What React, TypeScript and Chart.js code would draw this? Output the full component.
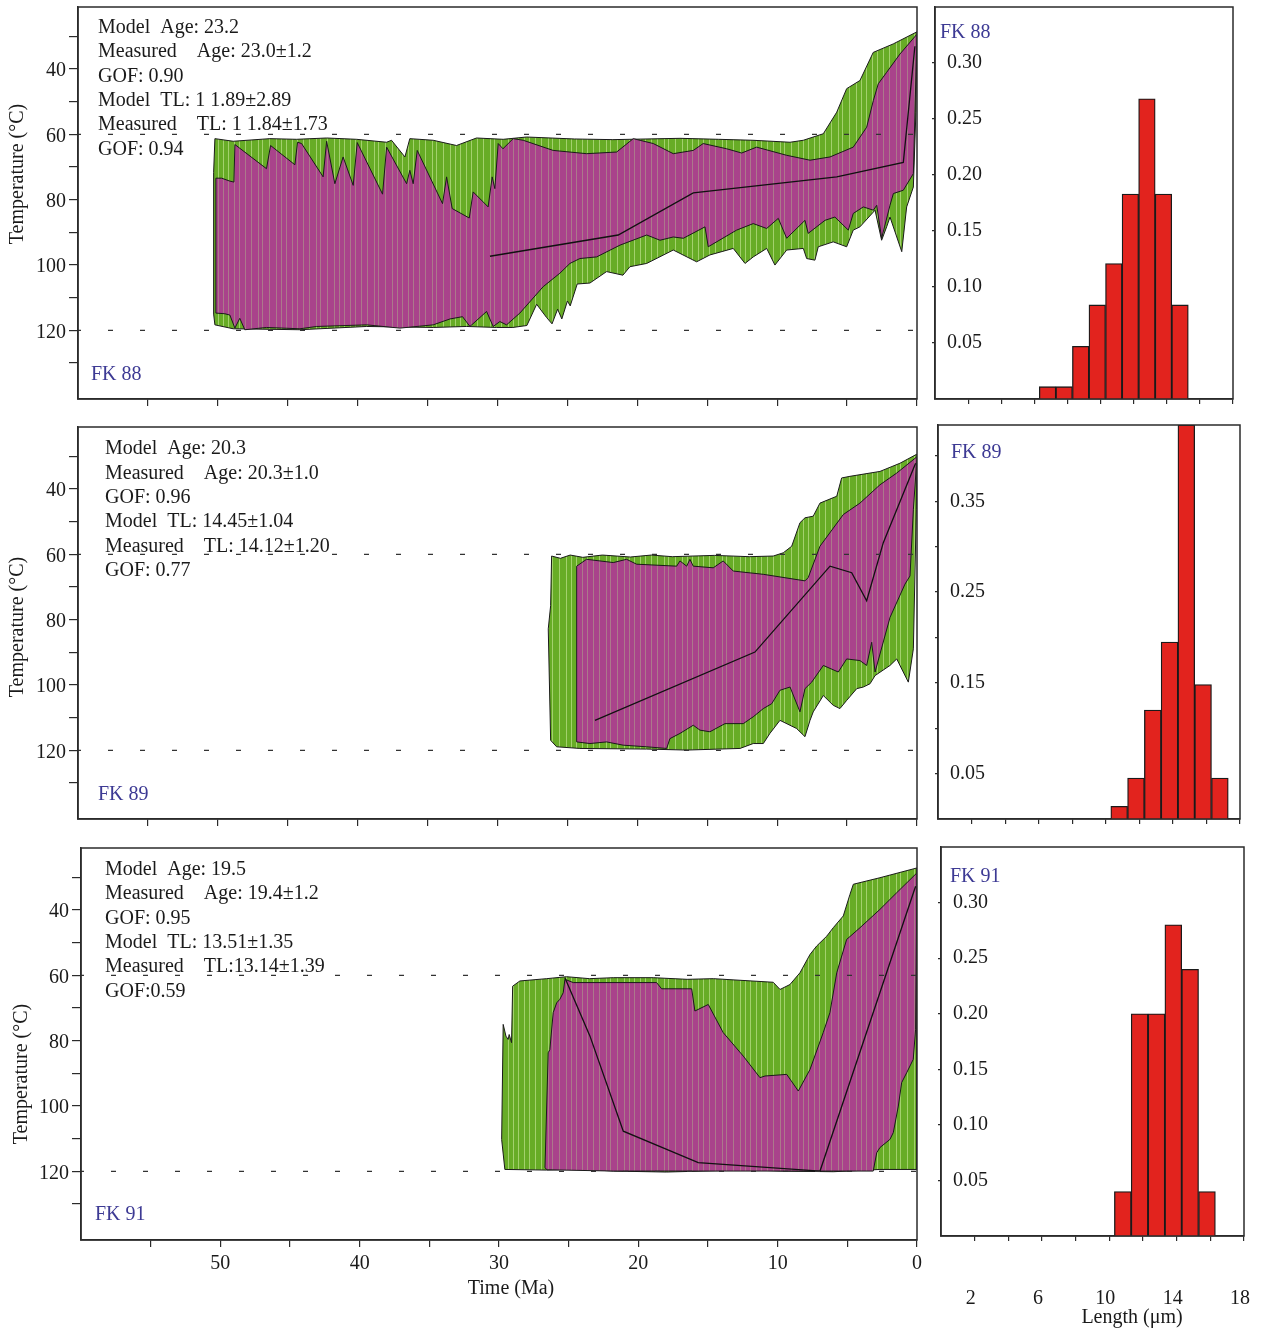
import React, { useEffect, useRef } from "react";
import { Chart, registerables } from "chart.js";
Chart.register(...registerables);

type Pt = [number, number];

const SERIF = '"Liberation Serif", "Times New Roman", serif';
const INK = "#1a1a1a";
const AXIS = "#2b2b2b";
const BLUE = "#3d3a94";
const GREEN = "#67ac26";
const GREEN_STRIPE = "rgba(190,225,140,0.7)";
const MAGENTA = "#a9438b";
const MAGENTA_STRIPE = "rgba(175,175,140,0.5)";
const RED = "#e2231e";

// ---------- axes ----------
const timeRange = [60, 0];
const timeTicks = [55, 50, 45, 40, 35, 30, 25, 20, 15, 10, 5, 0];
const timeLabels = [50, 40, 30, 20, 10, 0];
const tempTicks = [30, 40, 50, 60, 70, 80, 90, 100, 110, 120, 130];
const tempLabels = [40, 60, 80, 100, 120];
const dashLevels = [60, 120];
const lengthTicks = [2, 4, 6, 8, 10, 12, 14, 16, 18];
const lengthLabels = [2, 6, 10, 14, 18];

// ---------- FK 88 ----------
const fk88Stats = ["Model  Age: 23.2", "Measured    Age: 23.0±1.2", "GOF: 0.90", "Model  TL: 1 1.89±2.89", "Measured    TL: 1 1.84±1.73", "GOF: 0.94"];
const fk88GreenUpper: Pt[] = [
  [50.3, 71.6], [50.21, 61.3], [48.9, 62.1], [46.28, 61.3], [44.37, 61.5], [42.22, 61.1], [40.08, 61.5], [37.93, 62.4], [37.58, 61.8],
  [36.62, 66.9], [36.27, 61.3], [34.6, 61.8], [32.93, 63.4], [31.5, 61.1], [29.59, 61.5], [27.92, 60.8], [24.5, 61.4], [21.75, 61.6],
  [16.95, 61.2], [14.2, 61.5], [11.73, 61.8], [9.08, 62.4], [8.13, 61.8], [6.7, 59.8], [5.74, 53.2], [5.03, 46.0], [4.08, 43.5],
  [3.13, 34.9], [1.7, 32.3], [0, 28.6],
];
const fk88GreenLower: Pt[] = [
  [50.3, 115.0], [50.21, 118.3], [48.9, 119.5], [44.13, 119.8], [39.36, 118.8], [34.6, 119.1], [32.21, 118.8], [30.06, 119.1], [28.9, 119.1],
  [27.9, 118.5], [27.2, 112.0], [26.5, 116.0], [26.1, 118.0], [25.7, 113.5], [25.4, 116.5], [25.0, 111.0], [24.8, 112.5], [24.3, 105.8],
  [23.39, 105.5], [22.2, 102.0], [21.03, 103.1], [20.53, 100.5], [19.33, 99.5], [17.43, 95.4], [15.76, 99.0], [14.81, 96.9], [13.14, 94.9],
  [12.3, 99.5], [11.71, 97.5], [10.75, 94.9], [10.16, 100.0], [9.32, 95.4], [8.13, 94.9], [7.89, 98.0], [7.3, 98.5], [7.06, 94.4],
  [5.99, 92.9], [5.03, 94.4], [4.56, 89.3], [4.08, 88.3], [3.0, 83.2], [2.53, 92.4], [2.17, 88.3], [1.93, 85.3], [1.09, 95.9],
  [0.74, 82.2], [0.26, 76.1], [0.08, 53.3], [0, 28.6],
];
const fk88MagentaUpper: Pt[] = [
  [50.14, 73.4], [49.73, 73.4], [49.14, 74.3], [48.85, 74.6], [48.78, 63.1], [46.52, 70.5], [46.23, 63.4], [44.49, 69.3], [44.3, 62.4],
  [44.01, 62.8], [42.47, 73.0], [42.22, 62.1], [41.63, 75.1], [41.04, 66.9], [40.32, 75.6], [40.03, 62.5], [38.22, 78.3], [37.93, 63.9],
  [36.5, 75.1], [36.27, 71.0], [36.03, 75.1], [35.74, 64.9], [33.93, 81.2], [33.64, 73.0], [33.24, 82.7], [32.02, 85.6], [31.74, 77.6],
  [30.67, 82.2], [30.38, 73.0], [30.19, 76.6], [29.95, 62.8], [29.61, 64.4], [28.88, 61.3], [28.16, 61.8], [26.02, 64.9], [23.63, 65.9],
  [21.48, 65.4], [20.29, 61.3], [18.86, 62.8], [17.43, 65.9], [16.0, 64.9], [15.29, 62.8], [13.61, 64.4], [12.54, 65.7], [11.47, 63.9],
  [9.32, 66.4], [7.65, 67.9], [6.22, 66.9], [4.56, 63.9], [3.6, 57.8], [3.12, 49.6], [2.77, 44.5], [2.17, 41.0], [1.22, 35.4], [0, 29.3],
];
const fk88MagentaLower: Pt[] = [
  [50.14, 114.7], [49.5, 114.9], [49.14, 115.3], [48.78, 119.3], [48.43, 116.3], [48.07, 119.8], [46.52, 119.1], [44.13, 119.5],
  [42.94, 118.8], [39.36, 118.3], [36.98, 119.3], [34.6, 118.3], [33.4, 116.5], [32.5, 115.8], [31.97, 118.8], [30.78, 114.2],
  [30.31, 118.8], [29.83, 117.3], [29.35, 118.3], [28.4, 114.7], [26.73, 106.6], [25.54, 102.5], [24.82, 99.5], [24.11, 98.0],
  [22.91, 97.5], [21.24, 93.9], [19.33, 90.8], [18.38, 92.4], [17.43, 91.4], [16.71, 91.8], [15.16, 88.3], [14.93, 94.4], [12.9, 89.3],
  [11.71, 87.3], [10.75, 88.8], [9.92, 85.7], [9.32, 91.8], [8.01, 86.3], [7.78, 90.3], [6.58, 86.3], [5.87, 85.3], [4.91, 89.3],
  [4.56, 84.2], [3.84, 82.2], [3.12, 83.2], [2.88, 81.7], [2.53, 91.8], [1.93, 81.7], [1.69, 78.1], [0.98, 77.1], [0.26, 72.0], [0, 29.3],
];
const fk88Best: Pt[] = [[30.54, 97.3], [21.37, 90.8], [16.0, 77.9], [5.74, 73.0], [0.98, 68.6], [0.15, 33.0]];
const fk88Length = [6.8, 7.8, 8.8, 9.8, 10.8, 11.8, 12.8, 13.8, 14.8];
const fk88Freq = [0.011, 0.011, 0.047, 0.084, 0.121, 0.183, 0.268, 0.183, 0.084];
const fk88FreqTicks = [0.05, 0.1, 0.15, 0.2, 0.25, 0.3];
const fk88FreqLabels = [0.05, 0.1, 0.15, 0.2, 0.25, 0.3];

// ---------- FK 89 ----------
const fk89Stats = ["Model  Age: 20.3", "Measured    Age: 20.3±1.0", "GOF: 0.96", "Model  TL: 14.45±1.04", "Measured    TL: 14.12±1.20", "GOF: 0.77"];
const fk89GreenUpper: Pt[] = [
  [26.37, 82.8], [26.2, 75.7], [26.13, 60.5], [25.5, 61.2], [24.8, 60.2], [23.9, 60.9], [22.5, 60.2], [20.5, 60.8], [19.0, 60.2],
  [17.5, 60.7], [14.5, 60.3], [12.0, 60.7], [10.28, 60.5], [9.56, 59.5], [8.96, 57.5], [8.37, 50.3], [8.01, 48.8], [7.42, 48.3],
  [6.94, 44.3], [5.74, 42.2], [5.39, 36.6], [4.79, 36.1], [2.65, 34.6], [1.22, 32.1], [0, 29.3],
];
const fk89GreenLower: Pt[] = [
  [26.2, 116.9], [25.77, 118.9], [24.11, 119.4], [19.33, 119.6], [16.47, 119.9], [12.66, 119.4], [11.71, 117.9], [10.99, 117.9],
  [10.52, 114.8], [9.8, 110.8], [8.61, 113.3], [8.01, 115.8], [7.65, 110.8], [7.42, 108.2], [6.7, 103.2], [5.99, 106.2], [5.51, 107.2],
  [5.03, 104.7], [4.31, 101.1], [3.84, 100.6], [3.36, 99.6], [3.0, 97.1], [1.93, 94.0], [1.45, 92.0], [0.62, 99.1], [0.26, 88.9],
  [0.05, 46.3], [0, 29.3],
];
const fk89MagentaUpper: Pt[] = [
  [24.34, 63.6], [23.63, 61.5], [21.72, 62.5], [20.77, 61.5], [20.05, 63.0], [17.19, 63.6], [16.95, 62.0], [16.47, 63.6], [16.24, 61.5],
  [16.0, 63.6], [14.57, 64.1], [13.86, 62.0], [13.14, 65.1], [10.99, 66.1], [8.01, 68.1], [7.78, 67.1], [6.94, 57.5], [5.27, 47.8],
  [4.08, 44.3], [2.65, 38.7], [1.45, 35.1], [0, 30.1],
];
const fk89MagentaLower: Pt[] = [
  [24.34, 117.4], [23.39, 117.9], [22.2, 117.4], [21.01, 118.4], [19.33, 118.9], [17.9, 119.4], [17.67, 116.4], [16.95, 114.8],
  [16.0, 112.3], [15.52, 113.8], [14.81, 114.3], [13.73, 111.8], [12.42, 111.8], [11.71, 109.7], [10.99, 107.2], [10.39, 105.7],
  [9.8, 101.6], [9.08, 100.6], [8.37, 108.2], [8.01, 101.1], [7.53, 99.1], [6.7, 94.0], [5.63, 96.0], [5.03, 92.0], [4.08, 92.5],
  [3.6, 94.0], [3.24, 86.9], [3.0, 96.0], [1.93, 79.3], [0.86, 69.1], [0.5, 66.6], [0.26, 46.3], [0, 30.1],
];
const fk89Best: Pt[] = [[23.03, 110.8], [11.59, 89.9], [6.22, 63.6], [4.67, 65.6], [3.6, 74.2], [2.41, 56.4], [0.1, 32.1]];
const fk89Length = [10.8, 11.8, 12.8, 13.8, 14.8, 15.8, 16.8];
const fk89Freq = [0.014, 0.045, 0.12, 0.195, 0.434, 0.148, 0.045];
const fk89FreqTicks = [0.05, 0.1, 0.15, 0.2, 0.25, 0.3, 0.35, 0.4];
const fk89FreqLabels = [0.05, 0.15, 0.25, 0.35];

// ---------- FK 91 ----------
const fk91Stats = ["Model  Age: 19.5", "Measured    Age: 19.4±1.2", "GOF: 0.95", "Model  TL: 13.51±1.35", "Measured    TL:13.14±1.39", "GOF:0.59"];
const fk91GreenUpper: Pt[] = [
  [29.81, 110.2], [29.7, 75.0], [29.5, 78.6], [29.34, 79.6], [29.27, 78.1], [29.1, 80.6], [29.02, 63.3], [28.5, 61.7], [26.58, 61.0],
  [25.15, 60.4], [23.5, 61.0], [21.8, 60.7], [18.93, 60.7], [16.5, 61.2], [14.62, 61.0], [10.32, 62.1], [9.83, 64.3], [9.12, 62.8],
  [8.4, 59.2], [7.68, 53.6], [7.2, 51.0], [6.48, 48.0], [6.01, 45.4], [5.29, 41.8], [4.81, 35.2], [4.57, 32.1], [2.66, 30.1], [0, 27.1],
];
const fk91GreenLower: Pt[] = [
  [29.58, 119.4], [26.58, 119.6], [24.0, 119.3], [21.8, 119.9], [18.0, 120.2], [12.0, 119.5], [9.83, 119.9], [6.0, 120.1], [2.66, 119.4],
  [0, 119.4],
];
const fk91MagentaUpper: Pt[] = [
  [26.7, 118.9], [26.47, 83.7], [26.35, 82.7], [26.11, 71.4], [25.86, 68.4], [25.63, 67.3], [25.39, 65.3], [25.27, 61.2], [24.67, 62.2],
  [18.69, 62.2], [18.33, 64.1], [16.17, 64.1], [15.94, 70.9], [14.98, 68.9], [13.91, 77.5], [12.47, 84.7], [11.27, 91.3], [10.91, 90.8],
  [9.35, 90.3], [8.52, 95.4], [7.68, 88.8], [6.73, 77.5], [6.25, 71.4], [5.76, 59.2], [5.05, 49.0], [4.09, 45.4], [2.66, 39.8],
  [1.46, 34.7], [0, 28.6],
];
const fk91MagentaLower: Pt[] = [
  [26.55, 119.5], [21.8, 119.9], [3.14, 119.9], [2.89, 114.3], [2.66, 112.7], [1.94, 110.2], [1.7, 108.1], [1.34, 100.0], [1.1, 92.8],
  [0.74, 89.8], [0.27, 85.7], [0.1, 76.5], [0, 28.6],
];
const fk91Best: Pt[] = [[25.27, 60.7], [23.47, 78.6], [21.08, 107.7], [15.7, 117.3], [6.96, 119.9], [0.1, 32.7]];
const fk91Length = [10.8, 11.8, 12.8, 13.8, 14.8, 15.8];
const fk91Freq = [0.04, 0.2, 0.2, 0.28, 0.24, 0.04];
const fk91FreqTicks = [0.05, 0.1, 0.15, 0.2, 0.25, 0.3];
const fk91FreqLabels = [0.05, 0.1, 0.15, 0.2, 0.25, 0.3];

// ---------- helpers ----------
const toXY = (a: Pt[]) => a.map(([x, y]) => ({ x, y }));
const polygon = (up: Pt[], low: Pt[]) => {
  const pts = [...up, ...[...low].reverse(), up[0]];
  return toXY(pts);
};
const near = (list: number[], v: number) => list.some((l) => Math.abs(l - v) < 1e-6);

function stripes(base: string, stripe: string): any {
  const c = document.createElement("canvas");
  c.width = 58;
  c.height = 8;
  const g = c.getContext("2d")!;
  g.fillStyle = base;
  g.fillRect(0, 0, 58, 8);
  g.fillStyle = stripe;
  [2, 7, 13, 19, 26, 30, 37, 44, 49, 54].forEach((o) => g.fillRect(o, 0, 1, 8));
  return g.createPattern(c, "repeat") || base;
}

type Txt = { t: string; x: number; y: number; color?: string; size?: number; align?: CanvasTextAlign; rot?: boolean };

const framePlugin = {
  id: "frame",
  afterDraw(chart: any) {
    const { ctx, chartArea: a } = chart;
    ctx.save();
    ctx.strokeStyle = AXIS;
    ctx.lineWidth = 1.5;
    ctx.strokeRect(a.left, a.top, a.right - a.left, a.bottom - a.top);
    ctx.restore();
  },
};

const textPlugin = (items: Txt[], top: number, left: number) => ({
  id: "texts",
  afterDraw(chart: any) {
    const ctx = chart.ctx as CanvasRenderingContext2D;
    for (const it of items) {
      ctx.save();
      ctx.font = `${it.size ?? 20}px ${SERIF}`;
      ctx.fillStyle = it.color ?? INK;
      ctx.textAlign = it.align ?? "left";
      ctx.textBaseline = "middle";
      ctx.translate(it.x - left, it.y - top);
      if (it.rot) ctx.rotate(-Math.PI / 2);
      ctx.fillText(it.t, 0, 0);
      ctx.restore();
    }
  },
});

const tickFont = { family: SERIF, size: 20 };

interface ThermalSpec {
  top: number; height: number; yAxisW: number; xAxisH: number;
  greenUp: Pt[]; greenLow: Pt[]; magUp: Pt[]; magLow: Pt[]; best: Pt[];
  stats: string[]; statsX: number; statsY: number[];
  name: string; nameX: number; nameY: number; yTitleX: number; yTitleY: number; bottom: boolean;
}

function thermalConfig(s: ThermalSpec): any {
  const texts: Txt[] = [
    ...s.stats.map((t, i) => ({ t, x: s.statsX, y: s.statsY[i] })),
    { t: s.name, x: s.nameX, y: s.nameY, color: BLUE },
    { t: "Temperature (°C)", x: s.yTitleX, y: s.yTitleY, align: "center" as CanvasTextAlign, rot: true },
  ];
  if (s.bottom) texts.push({ t: "Time (Ma)", x: 511, y: 1289, align: "center" });
  const line = { pointRadius: 0, tension: 0 };
  return {
    type: "line",
    data: {
      datasets: [
        { ...line, data: polygon(s.greenUp, s.greenLow), fill: "shape", backgroundColor: stripes(GREEN, GREEN_STRIPE), borderColor: INK, borderWidth: 1, order: 3 },
        { ...line, data: polygon(s.magUp, s.magLow), fill: "shape", backgroundColor: stripes(MAGENTA, MAGENTA_STRIPE), borderColor: INK, borderWidth: 1, order: 2 },
        { ...line, data: toXY(s.best), fill: false, borderColor: "#111", borderWidth: 1.3, order: 1 },
        ...dashLevels.map((lv) => ({
          ...line, data: timeRange.map((x) => ({ x, y: lv })), fill: false, borderColor: "#333", borderWidth: 1.3,
          borderDash: [5, 27], borderDashOffset: 2, order: 0,
        })),
      ],
    },
    options: {
      responsive: false, animation: false, devicePixelRatio: 1, events: [],
      layout: { padding: { top: 7, right: 8, left: 0, bottom: 0 } },
      plugins: { legend: { display: false }, tooltip: { enabled: false } },
      scales: {
        x: {
          type: "linear", reverse: true, min: 0, max: 60,
          afterBuildTicks: (ax: any) => { ax.ticks = timeTicks.map((v) => ({ value: v })); },
          ticks: { autoSkip: false, maxRotation: 0, font: tickFont, color: INK, padding: 5,
            callback: (v: number) => (s.bottom && near(timeLabels, v) ? String(v) : "") },
          grid: { drawOnChartArea: false, drawTicks: true, tickLength: 7, color: AXIS, lineWidth: 1.2 },
          border: { display: true, color: AXIS, width: 1.5 },
          afterFit: (ax: any) => { ax.height = s.xAxisH; ax.paddingLeft = 0; ax.paddingRight = 0; ax.paddingTop = 0; ax.paddingBottom = 0; },
        },
        y: {
          type: "linear", reverse: true, min: 21, max: 141,
          afterBuildTicks: (ax: any) => { ax.ticks = tempTicks.map((v) => ({ value: v })); },
          ticks: { autoSkip: false, font: tickFont, color: INK, padding: 3, labelOffset: 2,
            callback: (v: number) => (near(tempLabels, v) ? String(v) : "") },
          grid: { drawOnChartArea: false, drawTicks: true, tickLength: 9, color: AXIS, lineWidth: 1.2 },
          border: { display: true, color: AXIS, width: 1.5 },
          afterFit: (ax: any) => { ax.width = s.yAxisW; ax.paddingLeft = 0; ax.paddingRight = 0; ax.paddingTop = 0; ax.paddingBottom = 0; },
        },
      },
    },
    plugins: [framePlugin, textPlugin(texts, s.top, 0)],
  };
}

interface HistSpec {
  top: number; height: number; padTop: number; padRight: number; yAxisW: number; xAxisH: number;
  len: number[]; freq: number[]; max: number; yTicks: number[]; yLabels: number[];
  name: string; nameX: number; nameY: number; bottom: boolean;
}

function histConfig(h: HistSpec): any {
  const texts: Txt[] = [{ t: h.name, x: h.nameX, y: h.nameY, color: BLUE }];
  if (h.bottom) texts.push({ t: "Length (μm)", x: 1132, y: 1318, align: "center" });
  return {
    type: "bar",
    data: {
      datasets: [{
        data: h.len.map((x, i) => ({ x, y: h.freq[i] })), backgroundColor: RED, borderColor: INK, borderWidth: 1.3,
        barPercentage: 1, categoryPercentage: 1,
      }],
    },
    options: {
      responsive: false, animation: false, devicePixelRatio: 1, events: [],
      layout: { padding: { top: h.padTop, right: h.padRight, left: 0, bottom: 0 } },
      plugins: { legend: { display: false }, tooltip: { enabled: false } },
      scales: {
        x: {
          type: "linear", min: 0, max: 18, offset: false,
          afterBuildTicks: (ax: any) => { ax.ticks = lengthTicks.map((v) => ({ value: v })); },
          ticks: { autoSkip: false, maxRotation: 0, font: tickFont, color: INK, padding: 46, labelOffset: -4,
            callback: (v: number) => (h.bottom && near(lengthLabels, v) ? String(v) : "") },
          grid: { offset: false, drawOnChartArea: false, drawTicks: true, tickLength: 5, color: AXIS, lineWidth: 1.2 },
          border: { display: true, color: AXIS, width: 1.5 },
          afterFit: (ax: any) => { ax.height = h.xAxisH; ax.paddingLeft = 0; ax.paddingRight = 0; ax.paddingTop = 0; ax.paddingBottom = 0; },
        },
        y: {
          type: "linear", min: 0, max: h.max,
          afterBuildTicks: (ax: any) => { ax.ticks = h.yTicks.map((v) => ({ value: v })); },
          ticks: { autoSkip: false, mirror: true, font: tickFont, color: INK, padding: 12,
            callback: (v: number) => (near(h.yLabels, v) ? v.toFixed(2) : "") },
          grid: { drawOnChartArea: false, drawTicks: true, tickLength: 3, color: AXIS, lineWidth: 1.2 },
          border: { display: true, color: AXIS, width: 1.5 },
          afterFit: (ax: any) => { ax.width = h.yAxisW; ax.paddingLeft = 0; ax.paddingRight = 0; ax.paddingTop = 0; ax.paddingBottom = 0; },
        },
      },
    },
    plugins: [framePlugin, textPlugin(texts, h.top, 925)],
  };
}

function ChartBox({ left, top, width, height, make }: { left: number; top: number; width: number; height: number; make: () => any }) {
  const ref = useRef<HTMLCanvasElement>(null);
  useEffect(() => {
    const chart = new Chart(ref.current as HTMLCanvasElement, make());
    return () => chart.destroy();
  }, []);
  return <canvas ref={ref} width={width} height={height} style={{ position: "absolute", left, top, width, height }} />;
}

const thermals: ThermalSpec[] = [
  {
    top: 0, height: 410, yAxisW: 78, xAxisH: 11,
    greenUp: fk88GreenUpper, greenLow: fk88GreenLower, magUp: fk88MagentaUpper, magLow: fk88MagentaLower, best: fk88Best,
    stats: fk88Stats, statsX: 98, statsY: [28, 52, 77, 101, 125, 150],
    name: "FK 88", nameX: 91, nameY: 375, yTitleX: 18, yTitleY: 174, bottom: false,
  },
  {
    top: 420, height: 410, yAxisW: 78, xAxisH: 11,
    greenUp: fk89GreenUpper, greenLow: fk89GreenLower, magUp: fk89MagentaUpper, magLow: fk89MagentaLower, best: fk89Best,
    stats: fk89Stats, statsX: 105, statsY: [449, 474, 498, 522, 547, 571],
    name: "FK 89", nameX: 98, nameY: 795, yTitleX: 18, yTitleY: 627, bottom: false,
  },
  {
    top: 841, height: 489, yAxisW: 81, xAxisH: 90,
    greenUp: fk91GreenUpper, greenLow: fk91GreenLower, magUp: fk91MagentaUpper, magLow: fk91MagentaLower, best: fk91Best,
    stats: fk91Stats, statsX: 105, statsY: [870, 894, 919, 943, 967, 992],
    name: "FK 91", nameX: 95, nameY: 1215, yTitleX: 22, yTitleY: 1074, bottom: true,
  },
];

const hists: HistSpec[] = [
  {
    top: 0, height: 410, padTop: 7, padRight: 32, yAxisW: 10, xAxisH: 11,
    len: fk88Length, freq: fk88Freq, max: 0.35, yTicks: fk88FreqTicks, yLabels: fk88FreqLabels,
    name: "FK 88", nameX: 940, nameY: 33, bottom: false,
  },
  {
    top: 420, height: 410, padTop: 5, padRight: 25, yAxisW: 13, xAxisH: 11,
    len: fk89Length, freq: fk89Freq, max: 0.434, yTicks: fk89FreqTicks, yLabels: fk89FreqLabels,
    name: "FK 89", nameX: 951, nameY: 453, bottom: false,
  },
  {
    top: 841, height: 489, padTop: 6, padRight: 21, yAxisW: 16, xAxisH: 94,
    len: fk91Length, freq: fk91Freq, max: 0.35, yTicks: fk91FreqTicks, yLabels: fk91FreqLabels,
    name: "FK 91", nameX: 950, nameY: 877, bottom: true,
  },
];

export default function App() {
  return (
    <div style={{ position: "absolute", left: 0, top: 0, width: 1265, height: 1330, background: "#fff", overflow: "hidden" }}>
      {thermals.map((s, i) => (
        <ChartBox key={"t" + i} left={0} top={s.top} width={925} height={s.height} make={() => thermalConfig(s)} />
      ))}
      {hists.map((h, i) => (
        <ChartBox key={"h" + i} left={925} top={h.top} width={340} height={h.height} make={() => histConfig(h)} />
      ))}
    </div>
  );
}
